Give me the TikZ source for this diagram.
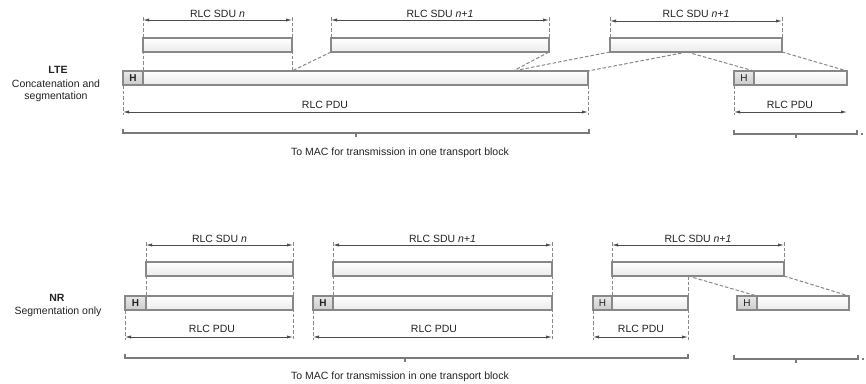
\documentclass[tikz,border=0pt]{standalone}
\usepackage{fontspec}
\setmainfont{Liberation Sans}
\usetikzlibrary{arrows.meta,calc,backgrounds}
\definecolor{edge}{HTML}{888888}
\definecolor{ink}{HTML}{4C4C4C}
\definecolor{txt}{HTML}{222222}
\tikzset{
  blk/.style={draw=edge, line width=1.4pt, top color=white, bottom color=gray!16,
    minimum height=14pt, inner sep=0pt, outer sep=0pt, anchor=north west},
  hdr/.style={blk, top color=gray!18, bottom color=gray!40, minimum width=20pt,
    font=\fontsize{10}{12}\selectfont, text=txt},
  dimarr/.style={draw=ink, line width=0.85pt, {Latex[length=6pt,width=3.2pt]}-{Latex[length=6pt,width=3.2pt]}},
  guide/.style={draw=edge, line width=1pt, dash pattern=on 3.5pt off 2pt},
  brk/.style={draw=edge!90!black, line width=1.1pt},
  lbl/.style={font=\fontsize{10.5}{12}\selectfont, text=txt, inner sep=0pt},
}
\begin{document}
\begin{tikzpicture}[x=1pt,y=-1pt]
\useasboundingbox (0,0) rectangle (866,383);

% ---------------- LTE ----------------
\node[lbl, font=\fontsize{10.5}{12}\selectfont\bfseries] (lte) at (58,69.5) {LTE};
\node[lbl, align=center] (ltedesc) at (56,91) {Concatenation and\\segmentation};

\node[blk, minimum width=149pt] (s1) at (143,38) {};
\node[blk, minimum width=218pt] (s2) at (331,38) {};
\node[blk, minimum width=172pt] (s3) at (610,38) {};
\node[hdr] (h1) at (123,71) {\textbf{H}};
\node[blk, minimum width=445pt] (b1) at (143,71) {};
\node[hdr] (h2) at (734,71) {H};
\node[blk, minimum width=93pt] (b2) at (754,71) {};

\coordinate (k1) at (s1.east |- b1.north);
\coordinate (k2) at (513,71);
\coordinate (k3) at (687,52);

\begin{scope}[on background layer]
  \draw[guide] ($(s1.north west)+(0,-21)$) -- (b1.north west);
  \draw[guide] ($(s1.north east)+(0,-21)$) -- (k1);
  \draw[guide] ($(s2.north west)+(0,-21)$) -- (s2.north west);
  \draw[guide] ($(s2.north east)+(0,-21)$) -- (s2.north east);
  \draw[guide] ($(s3.north west)+(0,-21)$) -- (s3.north west);
  \draw[guide] ($(s3.north east)+(0,-21)$) -- (s3.north east);
  \draw[guide] (s2.south west) -- (k1);
  \draw[guide] (s2.south east) -- (k2);
  \draw[guide] (s3.south west) -- (k2);
  \draw[guide] (k3) -- (b1.north east);
  \draw[guide] (k3) -- (b2.north west);
  \draw[guide] (s3.south east) -- (b2.north east);
  \draw[guide] (h1.south west) -- ++(0,30);
  \draw[guide] (b1.south east) -- ++(0,30);
  \draw[guide] (h2.south west) -- ++(0,30);
\end{scope}

\draw[dimarr] ($(s1.north west)+(0,-18)$) -- ($(s1.north east)+(0,-18)$);
\draw[dimarr] ($(s2.north west)+(0,-18)$) -- ($(s2.north east)+(0,-18)$);
\draw[dimarr] ($(s3.north west)+(0,-17)$) -- ($(s3.north east)+(0,-17)$);
\node[lbl, anchor=base] (ls1) at ($(s1.north)+(0,-21)$) {RLC SDU \textit{n}};
\node[lbl, anchor=base] (ls2) at ($(s2.north)+(0,-21)$) {RLC SDU \textit{n+1}};
\node[lbl, anchor=base] (ls3) at ($(s3.north)+(0,-21)$) {RLC SDU \textit{n+1}};

\draw[dimarr] ($(h1.south west)+(0,27)$) -- ($(b1.south east)+(0,27)$);
\draw[dimarr] ($(h2.south west)+(0,27)$) -- ($(b2.south east)+(0,27)$);
\node[lbl, anchor=base] (lp1) at (325,108.5) {RLC PDU};
\node[lbl, anchor=base] (lp2) at (790,108.5) {RLC PDU};

\draw[brk] (123,129) -- (123,133) -- (589,133) -- (589,129);
\draw[brk] (356,133) -- (356,137);
\draw[brk] (734,130) -- (734,134) -- (857,134) -- (857,130);
\draw[brk] (796,134) -- (796,138);
\draw[brk] (861,134) -- (863,134);
\node[lbl] (mac1) at (400,153) {To MAC for transmission in one transport block};

% ---------------- NR ----------------
\node[lbl, font=\fontsize{10.5}{12}\selectfont\bfseries] (nr) at (57,298) {NR};
\node[lbl] (nrdesc) at (58,311.5) {Segmentation only};

\node[blk, minimum width=147pt] (t1) at (146,262) {};
\node[blk, minimum width=219pt] (t2) at (333,262) {};
\node[blk, minimum width=172pt] (t3) at (612,262) {};
\node[hdr, minimum width=21pt] (g1) at (125,296) {\textbf{H}};
\node[blk, minimum width=147pt] (c1) at (146,296) {};
\node[hdr] (g2) at (313,296) {\textbf{H}};
\node[blk, minimum width=219pt] (c2) at (333,296) {};
\node[hdr, minimum width=19pt] (g3) at (593,296) {H};
\node[blk, minimum width=76pt] (c3) at (612,296) {};
\node[hdr] (g4) at (737,296) {H};
\node[blk, minimum width=92pt] (c4) at (757,296) {};

\coordinate (k4) at (c3.east |- t3.south);

\begin{scope}[on background layer]
  \draw[guide] ($(t1.north west)+(0,-20)$) -- (c1.north west);
  \draw[guide] ($(t1.north east)+(0,-20)$) -- ($(c1.south east)+(0,30)$);
  \draw[guide] (g1.south west) -- ++(0,30);
  \draw[guide] ($(t2.north west)+(0,-20)$) -- (c2.north west);
  \draw[guide] ($(t2.north east)+(0,-20)$) -- ($(c2.south east)+(0,30)$);
  \draw[guide] (g2.south west) -- ++(0,30);
  \draw[guide] ($(t3.north west)+(0,-20)$) -- (c3.north west);
  \draw[guide] ($(t3.north east)+(0,-20)$) -- (t3.north east);
  \draw[guide] (k4) -- ($(c3.south east)+(0,30)$);
  \draw[guide] (g3.south west) -- ++(0,30);
  \draw[guide] (k4) -- (c4.north west);
  \draw[guide] (t3.south east) -- (c4.north east);
\end{scope}

\draw[dimarr] ($(t1.north west)+(0,-17)$) -- ($(t1.north east)+(0,-17)$);
\draw[dimarr] ($(t2.north west)+(0,-17)$) -- ($(t2.north east)+(0,-17)$);
\draw[dimarr] ($(t3.north west)+(0,-17)$) -- ($(t3.north east)+(0,-17)$);
\node[lbl, anchor=base] (lt1) at ($(t1.north)+(0,-20)$) {RLC SDU \textit{n}};
\node[lbl, anchor=base] (lt2) at ($(t2.north)+(0,-20)$) {RLC SDU \textit{n+1}};
\node[lbl, anchor=base] (lt3) at ($(t3.north)+(0,-20)$) {RLC SDU \textit{n+1}};

\draw[dimarr] ($(g1.south west)+(0,27)$) -- ($(c1.south east)+(0,27)$);
\draw[dimarr] ($(g2.south west)+(0,27)$) -- ($(c2.south east)+(0,27)$);
\draw[dimarr] ($(g3.south west)+(0,27)$) -- ($(c3.south east)+(0,27)$);
\node[lbl, anchor=base] (lq1) at (212,332) {RLC PDU};
\node[lbl, anchor=base] (lq2) at (434,332) {RLC PDU};
\node[lbl, anchor=base] (lq3) at (641,332) {RLC PDU};

\draw[brk] (125,354) -- (125,358) -- (688,358) -- (688,354);
\draw[brk] (405,358) -- (405,362);
\draw[brk] (734,355) -- (734,359) -- (858,359) -- (858,355);
\draw[brk] (796,359) -- (796,363);
\draw[brk] (862,359) -- (864,359);
\node[lbl] (mac2) at (400,377) {To MAC for transmission in one transport block};
\end{tikzpicture}
\end{document}
